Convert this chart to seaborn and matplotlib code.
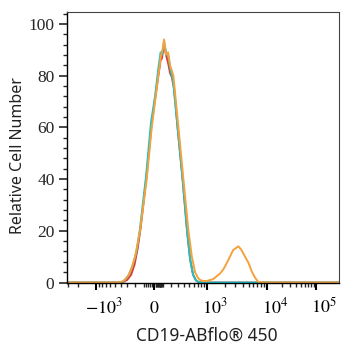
import numpy as np
import pandas as pd
import matplotlib
matplotlib.use("Agg")
import matplotlib.pyplot as plt
import matplotlib.ticker as mticker
from matplotlib.transforms import ScaledTranslation
import seaborn as sns

# ---------------- data (fluorescence value, relative count) ----------------
red_x = [-3000, -376, -301, -248, -205, -170, -137, -75, -25, 11, 47, 72, 85, 112,
         135, 160, 185, 207, 239, 297, 371, 454, 517, 585, 657, 741, 865, 300000]
red_y = [0, 0, 1, 3, 7, 13, 21, 41, 61, 71, 80, 86, 86.5, 92,
         88, 85, 81, 79.5, 75, 58, 40, 20, 9, 3, 0.8, 0.1, 0, 0]

cyan_x = [-3000, -393, -330, -275, -224, -182, -143, -80, -30, 11, 44, 72, 89, 112,
          135, 160, 185, 224, 297, 371, 454, 517, 585, 657, 741, 865, 300000]
cyan_y = [0, 0, 1, 3, 7, 12, 21, 41, 62, 72, 82, 89, 88, 93,
          89, 88, 83, 78, 58, 40, 20, 9, 3, 0.8, 0.1, 0, 0]

orange_x = [-3000, -409, -346, -288, -242, -199, -143, -73, -23, 11, 47, 77, 94, 112,
            135, 160, 185, 229, 302, 385, 481, 556, 634, 711, 771, 865, 1000, 1285,
            1681, 1911, 2287, 2771, 3390, 3760, 4380, 4965, 5720, 6400, 7260, 8600, 300000]
orange_y = [0, 0, 0.8, 2.5, 5.5, 10, 20, 40, 60, 70, 80, 88, 90, 94,
            88, 89, 84, 80, 60, 40, 20, 10, 4, 1.8, 1.0, 0.6, 0.6, 1.3,
            3.5, 5.1, 8.5, 12.5, 14, 12.8, 10, 7.7, 4, 1.9, 0.2, 0, 0]

series_names = ["red", "cyan", "orange"]
colors = {"red": "#e8352f", "cyan": "#1cc3c6", "orange": "#f5a13c"}

major_ticks = [-1000, 0, 1000, 10000, 100000]
major_labels = [r"$-10^{3}$", r"$0$", r"$10^{3}$", r"$10^{4}$", r"$10^{5}$"]
y_ticks = [0, 20, 40, 60, 80, 100]

# ---------------- build table ----------------
frames = []
for name, xs, ys in [("red", red_x, red_y), ("cyan", cyan_x, cyan_y), ("orange", orange_x, orange_y)]:
    frames.append(pd.DataFrame({"x": xs, "y": ys, "series": name}))
df = pd.concat(frames, ignore_index=True)

# ---------------- style ----------------
sns.set_style("ticks")
plt.rcParams["mathtext.fontset"] = "stix"
plt.rcParams["font.family"] = ["DejaVu Sans"]

fig = plt.figure(figsize=(3.52, 3.50), dpi=100)
ax = fig.add_axes([67 / 352, 1 - 283.3 / 350, (339 - 67) / 352, (283.3 - 12) / 350])

# biexponential-like display scale
C = 300.0
S_anchor = np.arcsinh(np.array([-1e5, -1e4, -1e3, 0, 1e3, 1e4, 1e5, 1e6]) / C)
P_anchor = np.array([-23.3, 36.7, 95.5, 154.0, 206.7, 266.7, 316.0, 365.0])

def fwd(v):
    v = np.asarray(v, dtype=float)
    return np.interp(np.arcsinh(v / C), S_anchor, P_anchor)

def inv(p):
    p = np.asarray(p, dtype=float)
    return C * np.sinh(np.interp(p, P_anchor, S_anchor))

ax.set_xscale("function", functions=(fwd, inv))

for name in series_names:
    sub = df[df["series"] == name]
    sns.lineplot(data=sub, x="x", y="y", color=colors[name], lw=1.4, ax=ax,
                 sort=False, estimator=None, legend=False)

ax.set_xlim(-3088, 2.94e5)
ax.set_ylim(-0.3, 104.6)

# x ticks
minor = []
for d in [10, 100, 1000, 10000]:
    for k in range(2, 10):
        minor.append(k * d)
minor = [m for m in minor if m < 3e5]
minor += [-m for m in [200, 300, 400, 500, 600, 700, 800, 900, 2000, 3000]]
minor += [20, 40, 60, 80, -20, -40, -60, -80, -100, 100]
ax.xaxis.set_major_locator(mticker.FixedLocator(major_ticks))
ax.xaxis.set_major_formatter(mticker.FixedFormatter(major_labels))
ax.xaxis.set_minor_locator(mticker.FixedLocator(sorted(minor)))
ax.xaxis.set_minor_formatter(mticker.NullFormatter())

ax.yaxis.set_major_locator(mticker.FixedLocator(y_ticks))
ax.yaxis.set_minor_locator(mticker.MultipleLocator(4))

ax.tick_params(axis="x", which="major", direction="out", length=5, width=1.5,
               pad=16.5, labelsize=13, colors="black")
ax.tick_params(axis="x", which="minor", direction="out", length=3, width=1.0)
ax.tick_params(axis="y", which="major", direction="out", length=6, width=1.2,
               pad=3, labelsize=12.5)
ax.tick_params(axis="y", which="minor", direction="out", length=3, width=1.0)
ax.tick_params(top=False, right=False)

for lab in ax.get_yticklabels():
    lab.set_fontfamily("Liberation Serif")

for sp in ["left", "bottom"]:
    ax.spines[sp].set_color("black")
    ax.spines[sp].set_linewidth(1.0)
for sp in ["top", "right"]:
    ax.spines[sp].set_color("#444444")
    ax.spines[sp].set_linewidth(0.8)

ax.set_xlabel("CD19-ABflo® 450", fontsize=12.5, fontfamily="Noto Sans", color="#222222")
ax.set_ylabel("Relative Cell Number", fontsize=11.5, fontfamily="Noto Sans", color="#222222")
ax.xaxis.set_label_coords(0.515, -0.16)
ax.yaxis.set_label_coords(-0.152, 0.47)

fig.canvas.draw()
for lab in ax.get_xticklabels():
    lab.set_verticalalignment("baseline")
    if lab.get_text() != r"$0$":
        lab.set_transform(lab.get_transform() + ScaledTranslation(8 / 100, 0, fig.dpi_scale_trans))

fig.savefig("out.png", dpi=100)
